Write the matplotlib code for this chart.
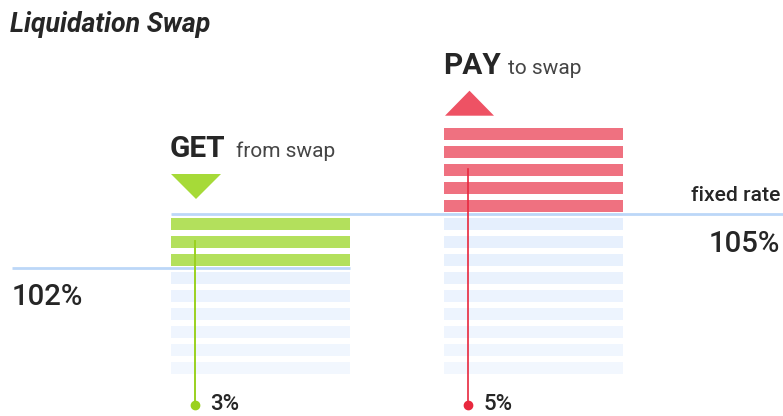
import matplotlib.pyplot as plt
from matplotlib.patches import Polygon
import matplotlib.colors as mcolors
import numpy as np

# rates (%)
fixed_rate = 105
liq_rate = 102
floor_rate = 96
get_pct = 3
pay_pct = 5

col_names = ['GET', 'PAY']
col_subs = ['from swap', 'to swap']
col_pcts = [get_pct, pay_pct]

plt.rcParams['font.family'] = ['Roboto', 'DejaVu Sans']

GREEN = '#b3e05c'
GREEN_DARK = '#a6da38'
GREEN_LINE = '#9ad11f'
RED = '#ef7180'
RED_DARK = '#ee5264'
RED_LINE = '#e8283e'
BLUE_LINE = '#bcd7f8'
LIGHT_TOP = np.array(mcolors.to_rgb('#e5effd'))
LIGHT_BOT = np.array(mcolors.to_rgb('#f2f7fe'))
TXT = '#262626'

W, H = 783, 416
PX = 18.0  # pixels per 1 %
LINE_PX = 214.3  # pixel row of the fixed rate line

fig = plt.figure(figsize=(W / 100, H / 100), dpi=100)
ax = fig.add_axes([0, 0, 1, 1])
ax.set_xlim(0, W)
ax.set_ylim(fixed_rate - (H - LINE_PX) / PX, fixed_rate + LINE_PX / PX)
ax.axis('off')


def ry(px):
    # pixel row -> rate units
    return fixed_rate - (px - LINE_PX) / PX


col_left = [171, 444]
col_w = 179
bar_h = 0.645
bar_off = 0.15


def light(r):
    t = (fixed_rate - 1 - r) / (fixed_rate - 1 - floor_rate)
    return tuple(LIGHT_TOP + (LIGHT_BOT - LIGHT_TOP) * t)


# GET column: green from liquidation rate to fixed rate, light below
lv_get = np.arange(floor_rate, fixed_rate)
c_get = [GREEN if r >= fixed_rate - get_pct else light(r) for r in lv_get]
ax.bar(col_left[0], bar_h, width=col_w, bottom=lv_get + bar_off,
       align='edge', color=c_get, zorder=2)

# PAY column: light up to fixed rate, red above
lv_pay = np.arange(floor_rate, fixed_rate + pay_pct)
c_pay = [RED if r >= fixed_rate else light(r) for r in lv_pay]
ax.bar(col_left[1], bar_h, width=col_w, bottom=lv_pay + bar_off,
       align='edge', color=c_pay, zorder=2)

# rate lines
ax.plot([col_left[0], W], [fixed_rate, fixed_rate], color=BLUE_LINE, lw=2.0, zorder=3,
        solid_capstyle='butt')
ax.plot([12, col_left[0] + col_w], [liq_rate, liq_rate], color=BLUE_LINE, lw=2.0,
        zorder=3, solid_capstyle='butt')

# pointer lines with dots
x_get = col_left[0] + 24
x_pay = col_left[1] + 24
ax.plot([x_get, x_get], [fixed_rate - get_pct / 2, ry(405)], color=GREEN_LINE, lw=1.4, zorder=4)
ax.plot([x_get], [ry(405)], 'o', color=GREEN_LINE, ms=6, zorder=4)
ax.plot([x_pay, x_pay], [fixed_rate + pay_pct / 2, ry(405)], color=RED_LINE, lw=1.2, zorder=4)
ax.plot([x_pay], [ry(405)], 'o', color=RED_LINE, ms=6, zorder=4)

ax.text(x_get + 15, ry(415.5), f'{get_pct}%', fontsize=16, color=TXT, fontweight='medium',
        va='bottom', ha='left')
ax.text(x_pay + 16, ry(415.5), f'{pay_pct}%', fontsize=16, color=TXT, fontweight='medium',
        va='bottom', ha='left')

# triangles
tri_get = Polygon([[col_left[0], ry(174)], [col_left[0] + 50, ry(174)], [col_left[0] + 25, ry(199)]],
                  closed=True, color=GREEN_DARK, lw=0)
tri_pay = Polygon([[col_left[1] + 1, ry(115.7)], [col_left[1] + 50, ry(115.7)],
                   [col_left[1] + 25.5, ry(90.7)]], closed=True, color=RED_DARK, lw=0)
ax.add_patch(tri_get)
ax.add_patch(tri_pay)

# headers
ax.text(col_left[0] - 1, ry(157), col_names[0], fontsize=21.5, fontweight='bold', color=TXT,
        va='baseline')
ax.text(236, ry(157), col_subs[0], fontsize=15, color='#454545', va='baseline')
ax.text(col_left[1] - 1, ry(74.3), col_names[1], fontsize=21.5, fontweight='bold', color=TXT,
        va='baseline')
ax.text(507.5, ry(74.3), col_subs[1], fontsize=15, color='#454545', va='baseline')

# rate labels
ax.text(780, ry(201), 'fixed rate', fontsize=15.2, fontweight='medium', color=TXT,
        ha='right', va='baseline')
ax.text(780, ry(252.5), f'{fixed_rate}%', fontsize=21.2, fontweight='medium', color=TXT,
        ha='right', va='baseline')
ax.text(12, ry(305.5), f'{liq_rate}%', fontsize=21.2, fontweight='medium', color=TXT,
        ha='left', va='baseline')

# title
ax.text(10, ry(32.5), 'Liquidation Swap', fontsize=19.3, fontweight='bold', fontstyle='italic',
        color=TXT, ha='left', va='baseline')

fig.savefig('out.png', dpi=100)
